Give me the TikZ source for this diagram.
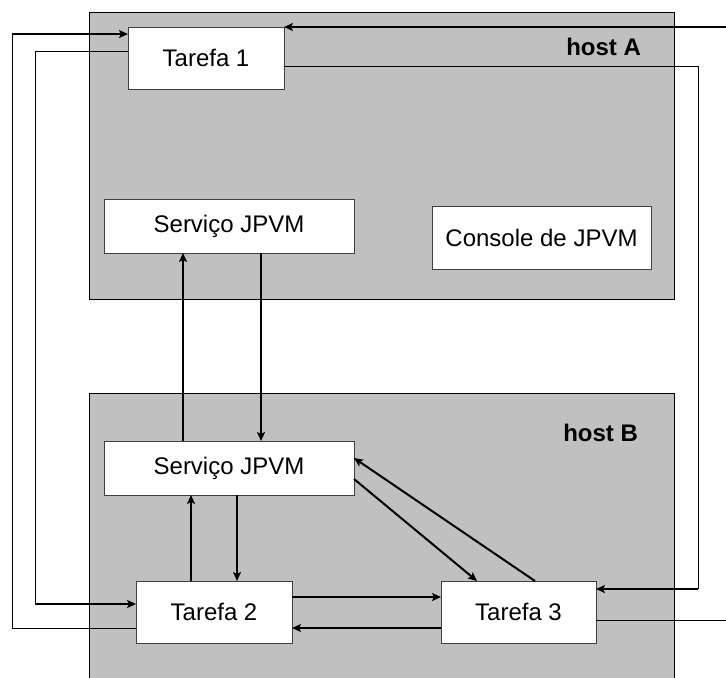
\documentclass[tikz,border=0pt]{standalone}
\usepackage{fontspec}
\setmainfont{Liberation Sans}
\usepackage{xcolor}
\usepackage{tikz}
\usetikzlibrary{arrows.meta}
\definecolor{hostGray}{HTML}{C0C0C0}
\definecolor{boxEdge}{HTML}{404040}

\begin{document}
\begin{tikzpicture}[
    x=0.5pt, y=-0.5pt,
    host/.style={rectangle, draw=black, fill=hostGray, line width=0.5pt, inner sep=0pt, outer sep=0pt},
    block/.style={rectangle, draw=boxEdge, fill=white, line width=0.5pt, inner sep=0pt, outer sep=0pt, font=\fontsize{12}{14}\selectfont},
    hostlabel/.style={anchor=east, font=\fontsize{12}{14}\selectfont\bfseries},
    wire/.style={line width=0.5pt},
    arrow/.style={->, >={Stealth[length=4.5pt, width=4pt, inset=1pt]}, line width=1pt}
]
\useasboundingbox (0,0) rectangle (726,677);
\clip (0,0) rectangle (726,677);

\node[host, minimum width=292.5pt, minimum height=143.5pt] (hostA) at (381.5,155.5) {};
\node[host, minimum width=292.5pt, minimum height=153.5pt] (hostB) at (381.5,546.5) {};
\node[hostlabel] (labA) at (648,47) {host A};
\node[hostlabel] (labB) at (645,433) {host B};

\node[block, minimum width=78pt, minimum height=31pt] (t1) at (206,58) {Tarefa 1};
\node[block, minimum width=125pt, minimum height=27pt] (sa) at (229,226) {Serviço JPVM};
\node[block, minimum width=109.5pt, minimum height=31.5pt] (con) at (541.5,237.5) {Console de JPVM};
\node[block, minimum width=125pt, minimum height=27pt] (sb) at (229,468) {Serviço JPVM};
\node[block, minimum width=78pt, minimum height=31pt] (t2) at (214,612) {Tarefa 2};
\node[block, minimum width=77.5pt, minimum height=31pt] (t3) at (518.5,612) {Tarefa 3};

\coordinate (eA) at (726,27);
\coordinate (eB) at (698,589);
\coordinate (eC) at (726,620);
\coordinate (wA) at (12,34);
\coordinate (wB) at (35,604);

% loops leaving the hosts
\draw[arrow] (eA) -- (t1.east |- eA);
\draw[wire] (t1.east |- 0,66) -| (eB);
\draw[arrow] (eB) -- (t3.east |- eB);
\draw[wire] (t3.east |- eC) -- (eC);
\draw[arrow] (wA) -- (t1.west |- wA);
\draw[wire] (t2.west |- 0,628) -| (wA);
\draw[wire] (t1.west |- 0,51) -| (wB);
\draw[arrow] (wB) -- (t2.west |- wB);

% between the services
\draw[arrow] (sb.north -| 183,0) -- (sa.south -| 183,0);
\draw[arrow] (sa.south -| 261,0) -- (sb.north -| 261,0);

% inside host B
\draw[arrow] (t2.north -| 191,0) -- (sb.south -| 191,0);
\draw[arrow] (sb.south -| 237,0) -- (t2.north -| 237,0);
\draw[arrow] (t2.east |- 0,597) -- (t3.west |- 0,597);
\draw[arrow] (t3.west |- 0,628) -- (t2.east |- 0,628);
\draw[arrow] (sb.east |- 0,479) -- (t3.north -| 477,0);
\draw[arrow] (t3.north -| 535,0) -- (sb.east |- 0,458);

\end{tikzpicture}
\end{document}
